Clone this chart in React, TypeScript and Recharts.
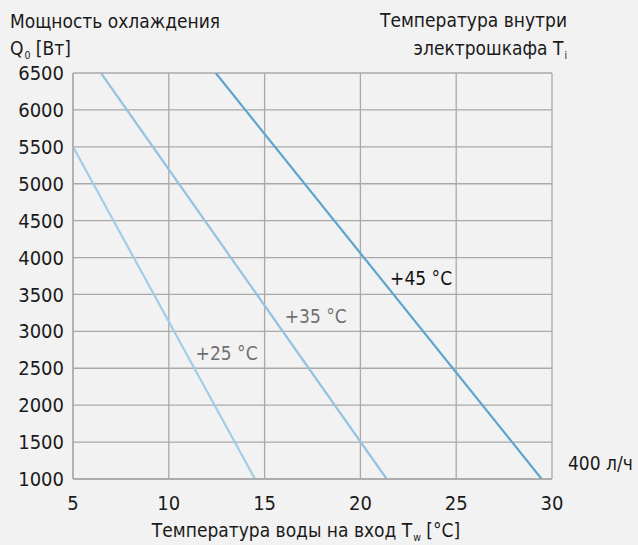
import { LineChart, Line, XAxis, YAxis, CartesianGrid, ReferenceDot } from 'recharts';

// water inlet temperature [°C] vs cooling power [W], 400 l/h
const t25X = [5, 14.5];
const t25Y = [5500, 1000];
const t35X = [6.46, 21.37];
const t35Y = [6500, 1000];
const t45X = [12.45, 29.46];
const t45Y = [6500, 1000];

const xTicks = [5, 10, 15, 20, 25, 30];
const yTicks = [1000, 1500, 2000, 2500, 3000, 3500, 4000, 4500, 5000, 5500, 6000, 6500];

const curveLabels = ['+25 °C', '+35 °C', '+45 °C'];
const labelX = [11.4, 16.05, 21.55];
const labelY = [2700, 3210, 3720];

const FONT = '"Liberation Sans Narrow", "DejaVu Sans Condensed", "DejaVu Sans", sans-serif';
const TEXT = '#1a1a1a';

const toPoints = (xs: number[], ys: number[]) => xs.map((x, i) => ({ x, y: ys[i] }));

const series = [
  { name: '+25', data: toPoints(t25X, t25Y), color: '#a3cde6' },
  { name: '+35', data: toPoints(t35X, t35Y), color: '#93c3e0' },
  { name: '+45', data: toPoints(t45X, t45Y), color: '#5ea5cd' },
];
const labelColors = ['#707070', '#707070', '#111111'];

const abs = (left: number, top: number, extra: React.CSSProperties = {}): React.CSSProperties => ({
  position: 'absolute',
  left,
  top,
  fontFamily: FONT,
  fontSize: 20,
  color: TEXT,
  whiteSpace: 'nowrap',
  lineHeight: '20px',
  transform: 'scaleX(0.95)',
  transformOrigin: 'left center',
  ...extra,
});

const subStyle: React.CSSProperties = { fontSize: 11, verticalAlign: -4, marginLeft: 1 };

export default function App() {
  return (
    <div style={{ position: 'fixed', left: 0, top: 0, width: 638, height: 545, background: '#f2f2f2', overflow: 'hidden' }}>
      <LineChart width={638} height={545} margin={{ top: 73, right: 86, bottom: 0, left: 0 }}>
        <CartesianGrid stroke="#a9a9a9" strokeWidth={1.3} />
        <XAxis
          type="number"
          dataKey="x"
          domain={[5, 30]}
          ticks={xTicks}
          height={66}
          tickLine={false}
          axisLine={{ stroke: '#a9a9a9', strokeWidth: 1.3 }}
          tick={{ fill: TEXT, fontSize: 20, fontFamily: FONT }}
          tickMargin={11}
          allowDataOverflow
        />
        <YAxis
          type="number"
          dataKey="y"
          domain={[1000, 6500]}
          ticks={yTicks}
          width={73}
          tickLine={false}
          axisLine={{ stroke: '#a9a9a9', strokeWidth: 1.3 }}
          tick={{ fill: TEXT, fontSize: 20, fontFamily: FONT }}
          tickMargin={3}
          interval={0}
          allowDataOverflow
        />
        {series.map((s) => (
          <Line
            key={s.name}
            data={s.data}
            dataKey="y"
            stroke={s.color}
            strokeWidth={2.2}
            dot={false}
            isAnimationActive={false}
          />
        ))}
        {curveLabels.map((text, i) => (
          <ReferenceDot
            key={text}
            x={labelX[i]}
            y={labelY[i]}
            r={0}
            fill="none"
            stroke="none"
            label={{ value: text, position: 'right', offset: 0, fill: labelColors[i], fontSize: 19, fontFamily: FONT }}
          />
        ))}
      </LineChart>

      <div style={abs(10, 11)}>Мощность охлаждения</div>
      <div style={abs(10, 38)}>
        Q<span style={subStyle}>0</span> [Вт]
      </div>
      <div style={abs(0, 10, { width: 567, textAlign: 'right', transformOrigin: '567px center' })}>Температура внутри</div>
      <div style={abs(0, 38, { width: 567, textAlign: 'right', transformOrigin: '567px center' })}>
        электрошкафа T<span style={subStyle}>i</span>
      </div>
      <div style={abs(568, 453)}>400 л/ч</div>
      <div style={abs(0, 520, { width: 612, textAlign: 'center', transformOrigin: '306px center' })}>
        Температура воды на вход T<span style={subStyle}>w</span> [°C]
      </div>
    </div>
  );
}
